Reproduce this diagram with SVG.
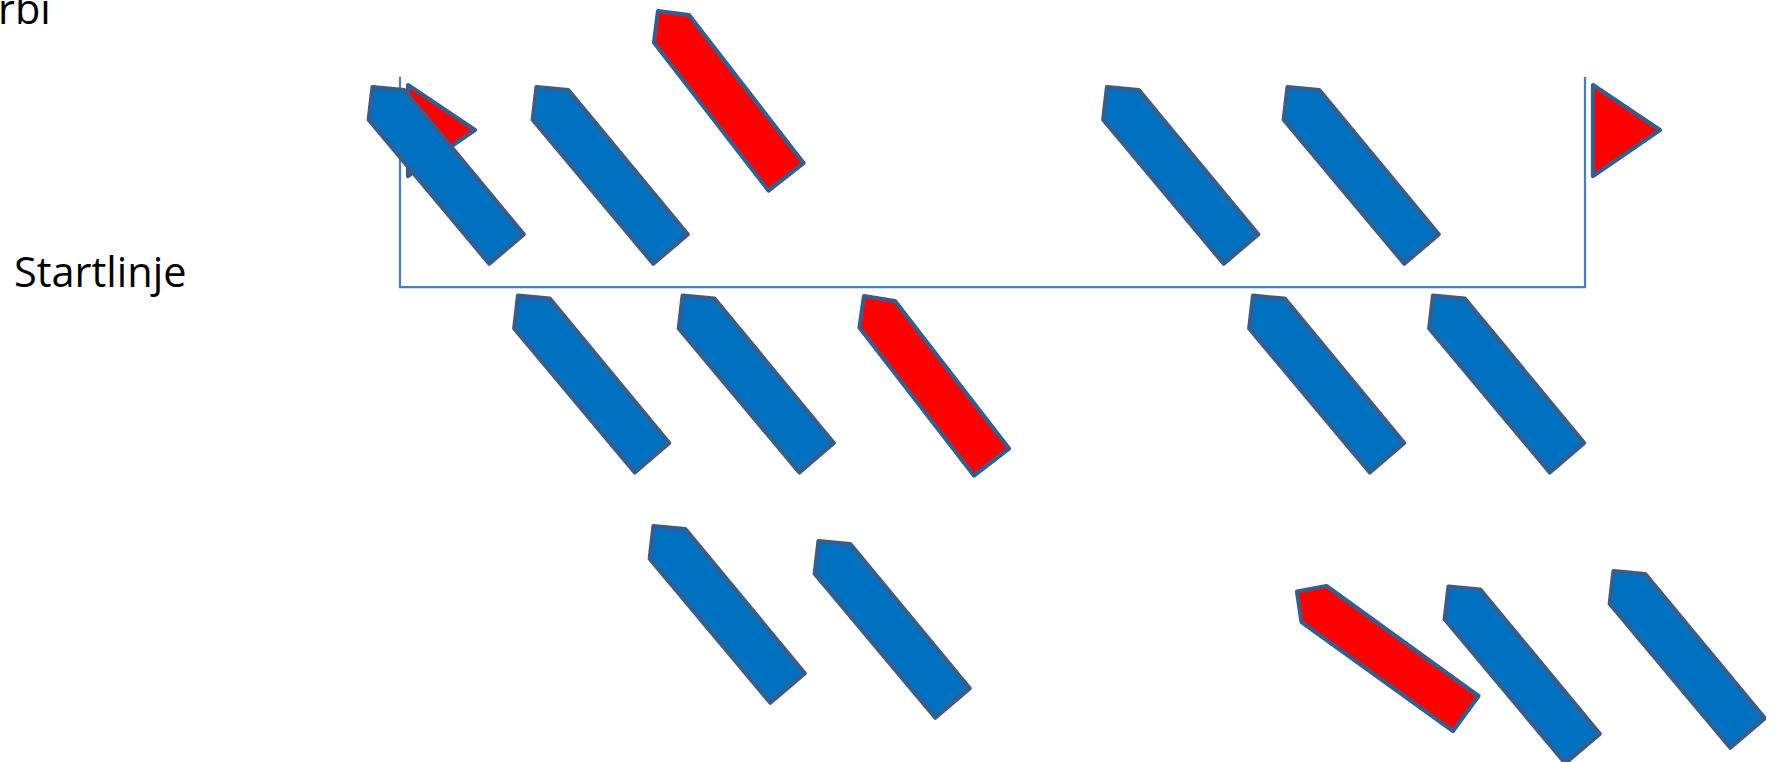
<svg xmlns="http://www.w3.org/2000/svg" width="1775" height="762" viewBox="0 0 1775 762">
<style>
.b{fill:#0070C0;stroke:#385D8A;stroke-width:4.2;stroke-linejoin:round}
.r{fill:#FF0000;stroke:#385D8A;stroke-width:4.2;stroke-linejoin:round}
.l{fill:none;stroke:#4A7EBB;stroke-width:2.25}
.t{font-family:"Open Sans","Noto Sans",sans-serif;font-size:41.5px;fill:#000}
</style>
<defs>
<polygon id="boat" points="0,0 31.8,3 151.2,147.3 116.8,176.7 -3.8,32.7"/>
<clipPath id="page"><rect x="0" y="0" width="1766" height="762"/></clipPath>
</defs>
<rect width="1775" height="762" fill="#fff"/>
<text id="label-top" class="t" x="-2" y="24">rbı</text>
<text id="label-start" class="t" x="14" y="287">Startlinje</text>
<g id="connectors">
<polyline class="l" points="400,77 400,287 1585,287 1585,77"/>
</g>
<g id="flag-left"><polygon class="r" points="408,85 475,130 408,176"/></g>
<g id="flag-right"><polygon class="r" points="1593,85 1660,130 1593,176"/></g>
<g id="boat-1"><use href="#boat" class="b" x="372.5" y="87"/></g>
<g id="boat-2"><use href="#boat" class="b" x="536.5" y="87"/></g>
<g id="boat-red-1"><polygon class="r" points="658,11 689,15 803.5,163 768.5,190.5 654,42.5"/></g>
<g id="boat-3"><use href="#boat" class="b" x="1107" y="87"/></g>
<g id="boat-4"><use href="#boat" class="b" x="1287.5" y="87"/></g>
<g id="boat-5"><use href="#boat" class="b" x="518" y="295.7"/></g>
<g id="boat-6"><use href="#boat" class="b" x="682.6" y="295.7"/></g>
<g id="boat-red-2"><polygon class="r" points="864,296 895,301 1009,448.5 974,475.5 859.5,327.5"/></g>
<g id="boat-7"><use href="#boat" class="b" x="1253" y="295.7"/></g>
<g id="boat-8"><use href="#boat" class="b" x="1433" y="295.7"/></g>
<g id="boat-9"><use href="#boat" class="b" x="653.5" y="526"/></g>
<g id="boat-10"><use href="#boat" class="b" x="818.5" y="541"/></g>
<g id="boat-red-3"><polygon class="r" points="1297,591.5 1326.5,586 1478.5,696 1453,731 1301.5,622"/></g>
<g id="boat-11"><use href="#boat" class="b" x="1448.5" y="586.5"/></g>
<g id="boat-12" clip-path="url(#page)"><use href="#boat" class="b" x="1613.5" y="571"/></g>
</svg>
